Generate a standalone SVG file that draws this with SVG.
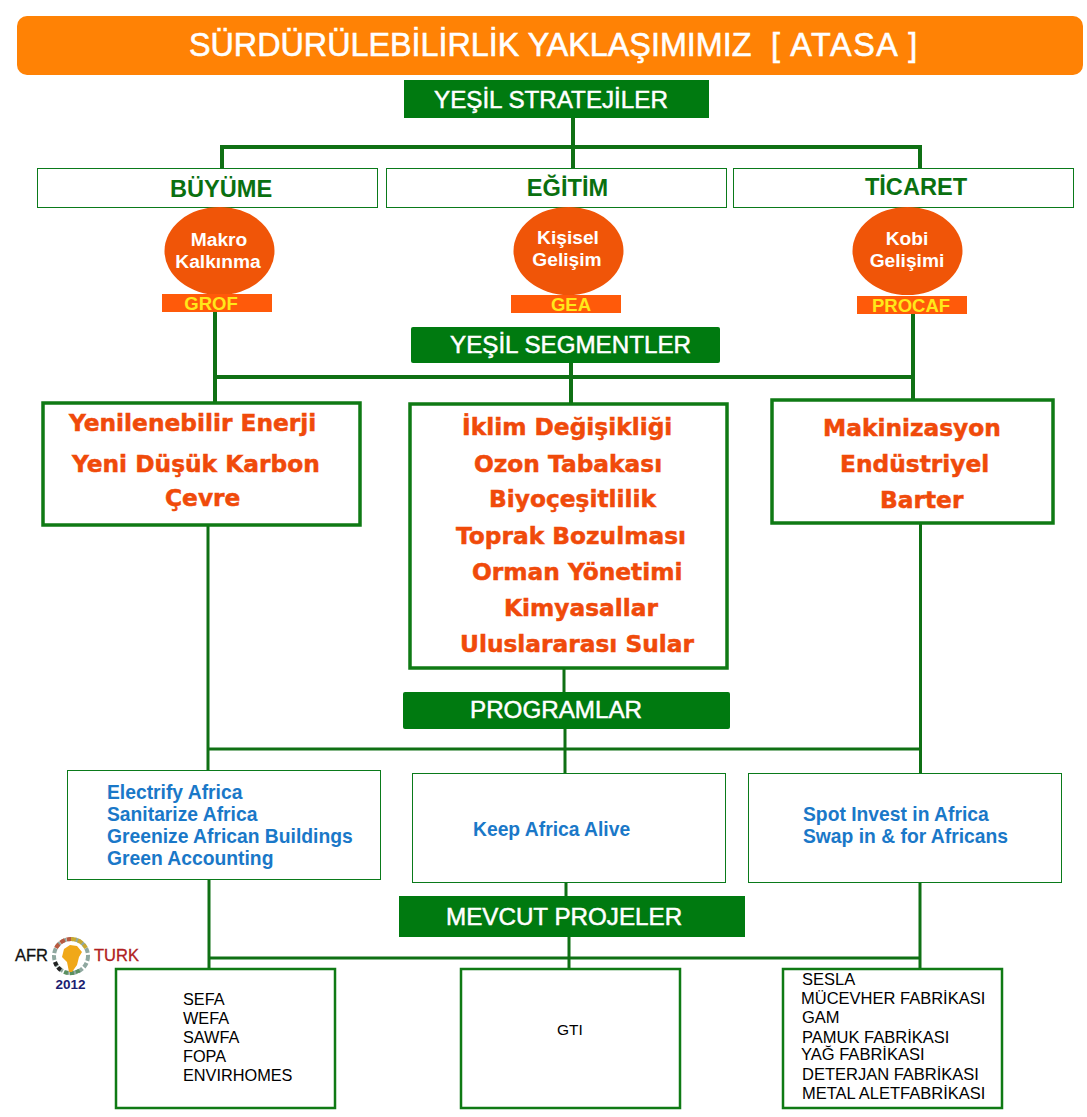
<svg xmlns="http://www.w3.org/2000/svg" width="1087" height="1117" viewBox="0 0 1087 1117">
<style>
text{font-family:"Liberation Sans",Arial,sans-serif}
.bar{fill:#007a10}
.bt{fill:#fff;font-size:24.2px;stroke:#fff;stroke-width:.5}
.cat{fill:#fff;stroke:#0a7a1a;stroke-width:1}
.ct{fill:#0a7010;font-size:23.6px;font-weight:700;text-anchor:middle}
.el{fill:#f05508}
.et{fill:#fff;font-size:19.2px;font-weight:700;text-anchor:middle}
.tag{fill:#ff5a0a}
.tt{fill:#ffe81a;font-size:18.5px;font-weight:700;text-anchor:middle}
.seg{fill:#fff;stroke:#0f7a14;stroke-width:3.5}
.st{fill:#f04a0a;stroke:#f04a0a;stroke-width:.5;font-size:23.3px;font-weight:700;font-family:"DejaVu Sans",sans-serif}
.prog{fill:#fff;stroke:#0a7a1a;stroke-width:1}
.pt{fill:#1a78c8;font-size:19.3px;font-weight:700}
.proj{fill:#fff;stroke:#0f7a14;stroke-width:2.5}
.pj{fill:#000;font-size:16.3px}
.pk{fill:#000;font-size:16.5px}
.gt{fill:#000;font-size:15.500px}
.l{fill:none;stroke:#0f7014}
</style>
<g id="connectors">
<path class="l" stroke-width="4" d="M573 118V168M222 168V147H920V168"/>
<path class="l" stroke-width="4" d="M215 312V403M215 377H913M571 362V404M913 314V400"/>
<path class="l" stroke-width="3" d="M208 525V770M920.500 523V773M564 668V693M565 729V773M208 749H921"/>
<path class="l" stroke-width="3" d="M209 879V969M566 882V897M569 936V969M920 882V969M209 958H920"/>
</g>
<g id="title"><rect x="17" y="16" width="1066" height="59" rx="10" fill="#ff8205"/><text y="56" fill="#fff" font-size="32.300" stroke="#fff" stroke-width=".6"><tspan x="189">SÜRDÜRÜLEBİLİRLİK YAKLAŞIMIMIZ</tspan><tspan x="771" letter-spacing="1.600">[ ATASA ]</tspan></text></g>
<g id="yesil-stratejiler"><rect class="bar" x="404" y="80" width="305" height="38"/><text class="bt" x="434" y="108">YEŞİL STRATEJİLER</text></g>
<g id="buyume"><rect class="cat" x="37.500" y="168.500" width="340" height="39"/><text class="ct" x="221" y="197">BÜYÜME</text></g>
<g id="egitim"><rect class="cat" x="386.500" y="168.500" width="340" height="39"/><text class="ct" x="567.500" y="196">EĞİTİM</text></g>
<g id="ticaret"><rect class="cat" x="733.500" y="168.500" width="340" height="39"/><text class="ct" x="916" y="195">TİCARET</text></g>
<g id="makro"><ellipse class="el" cx="219.500" cy="251" rx="55" ry="44"/><text class="et" x="219" y="246">Makro</text><text class="et" x="218" y="268">Kalkınma</text></g>
<g id="kisisel"><ellipse class="el" cx="568.500" cy="251" rx="55" ry="44"/><text class="et" x="568" y="244">Kişisel</text><text class="et" x="567" y="266">Gelişim</text></g>
<g id="kobi"><ellipse class="el" cx="907.500" cy="251" rx="55" ry="44"/><text class="et" x="907" y="245">Kobi</text><text class="et" x="907" y="267">Gelişimi</text></g>
<g id="grof"><rect class="tag" x="162" y="294" width="110" height="18"/><text class="tt" x="211" y="310">GROF</text></g>
<g id="gea"><rect class="tag" x="511" y="295" width="110" height="18"/><text class="tt" x="571" y="311">GEA</text></g>
<g id="procaf"><rect class="tag" x="857" y="296" width="110" height="18"/><text class="tt" x="911" y="312">PROCAF</text></g>
<g id="yesil-segmentler"><rect class="bar" x="411" y="327" width="309" height="36" rx="2"/><text class="bt" x="450" y="353">YEŞİL SEGMENTLER</text></g>
<g id="seg1"><rect class="seg" x="43" y="403" width="317" height="122"/>
<text class="st" x="69" y="431">Yenilenebilir Enerji</text><text class="st" x="72" y="472">Yeni Düşük Karbon</text><text class="st" x="165" y="506">Çevre</text></g>
<g id="seg2"><rect class="seg" x="410" y="404" width="317" height="264"/>
<text class="st" x="462" y="435">İklim Değişikliği</text><text class="st" x="474" y="472">Ozon Tabakası</text><text class="st" x="489" y="507">Biyoçeşitlilik</text><text class="st" x="456" y="544">Toprak Bozulması</text><text class="st" x="472" y="580">Orman Yönetimi</text><text class="st" x="504" y="616">Kimyasallar</text><text class="st" x="460" y="652">Uluslararası Sular</text></g>
<g id="seg3"><rect class="seg" x="772" y="400" width="281" height="123"/>
<text class="st" x="823" y="436">Makinizasyon</text><text class="st" x="840" y="472">Endüstriyel</text><text class="st" x="880" y="508">Barter</text></g>
<g id="programlar"><rect class="bar" x="403" y="692" width="327" height="37" rx="2"/><text class="bt" x="470" y="718">PROGRAMLAR</text></g>
<g id="prog1"><rect class="prog" x="67.500" y="770.500" width="313" height="109"/>
<text class="pt" x="107" y="799">Electrify Africa</text><text class="pt" x="107" y="821">Sanitarize Africa</text><text class="pt" x="107" y="843">Greenize African Buildings</text><text class="pt" x="107" y="865">Green Accounting</text></g>
<g id="prog2"><rect class="prog" x="412.500" y="773.500" width="313" height="109"/><text class="pt" x="473" y="836">Keep Africa Alive</text></g>
<g id="prog3"><rect class="prog" x="748.500" y="773.500" width="313" height="109"/><text class="pt" x="803" y="821">Spot Invest in Africa</text><text class="pt" x="803" y="843">Swap in &amp; for Africans</text></g>
<g id="mevcut"><rect class="bar" x="399" y="896" width="346" height="41"/><text class="bt" x="446" y="925">MEVCUT PROJELER</text></g>
<g id="afrturk" fill="none">
<circle cx="71" cy="956" r="17" stroke="#8fa8a0" stroke-width="4" stroke-dasharray="5 2"/>
<path d="M71 939A17 17 0 0 1 86 948" stroke="#c8a830" stroke-width="4" stroke-dasharray="5 2"/>
<path d="M56 948A17 17 0 0 1 71 939" stroke="#b85a40" stroke-width="4" stroke-dasharray="5 2"/>
<path d="M55 962A17 17 0 0 0 62 971" stroke="#222" stroke-width="4" stroke-dasharray="4 2"/>
<path d="M64 972A17 17 0 0 0 80 970" stroke="#5a9060" stroke-width="4" stroke-dasharray="4 2"/>
<path d="M64 949l6-4 7 1 5 6-3 5-2 8-5 7-3 0-2-10-5-5z" fill="#f0a818"/>
<text x="15" y="961" font-size="16.500" fill="#111" stroke="#111" stroke-width=".3">AFR</text>
<text x="94" y="961" font-size="16.500" fill="#b02020" stroke="#b02020" stroke-width=".3">TURK</text>
<text x="55.500" y="989" font-size="13.500" font-weight="700" fill="#1a2070">2012</text></g>
<g id="proj1"><rect class="proj" x="116" y="969" width="219" height="139"/>
<text class="pj" x="183" y="1005">SEFA</text><text class="pj" x="183" y="1024">WEFA</text><text class="pj" x="183" y="1043">SAWFA</text><text class="pj" x="183" y="1062">FOPA</text><text class="pj" x="183" y="1081">ENVIRHOMES</text></g>
<g id="proj2"><rect class="proj" x="461" y="969" width="219" height="139"/><text class="gt" x="557" y="1035">GTI</text></g>
<g id="proj3"><rect class="proj" x="783" y="969" width="219" height="139"/>
<text class="pk" x="802" y="985">SESLA</text><text class="pk" x="801" y="1004">MÜCEVHER FABRİKASI</text><text class="pk" x="802" y="1023">GAM</text><text class="pk" x="802" y="1043">PAMUK FABRİKASI</text><text class="pk" x="801" y="1060">YAĞ FABRİKASI</text><text class="pk" x="802" y="1080">DETERJAN FABRİKASI</text><text class="pk" x="802" y="1099">METAL ALETFABRİKASI</text></g>
</svg>
